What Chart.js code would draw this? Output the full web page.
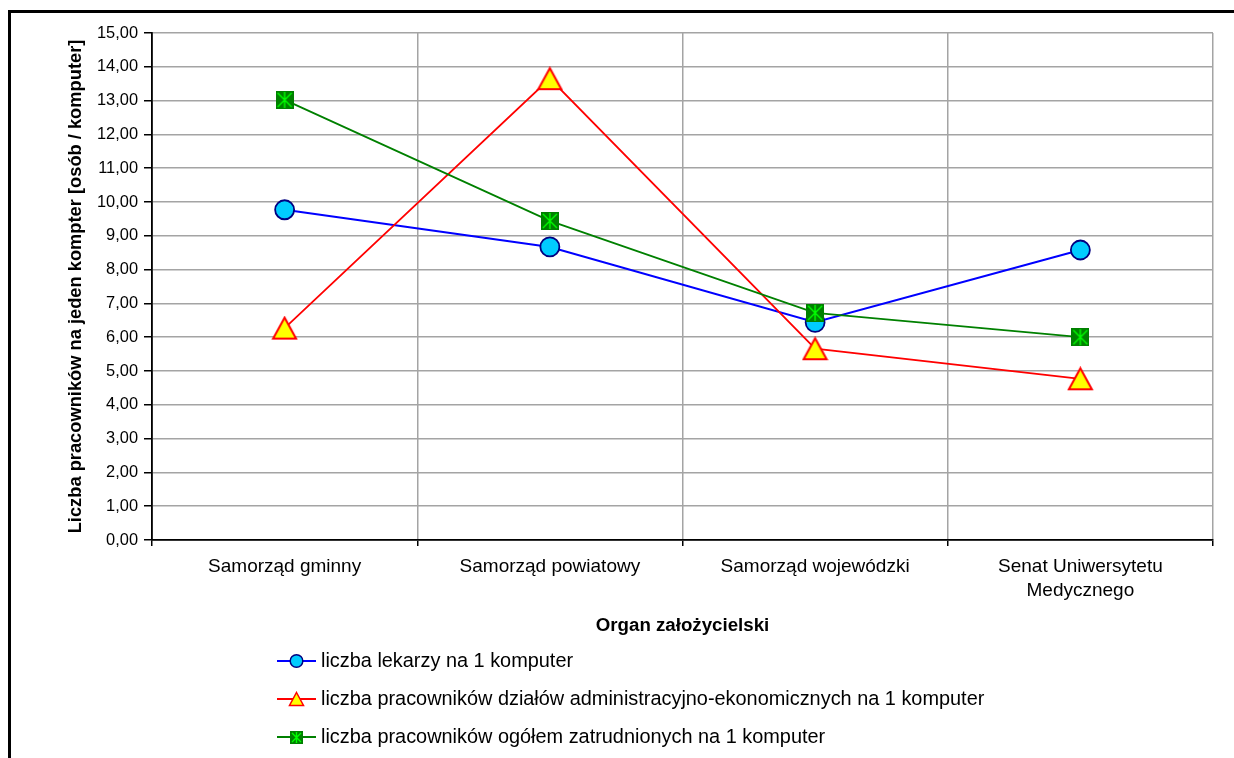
<!DOCTYPE html>
<html>
<head>
<meta charset="utf-8">
<script src="https://cdn.jsdelivr.net/npm/chart.js@4/dist/chart.umd.min.js"></script>
<style>
  html, body { margin: 0; padding: 0; background: #fff; }
  #wrap { width: 1234px; height: 758px; position: relative; }
</style>
</head>
<body>
<div id="wrap"><canvas id="c" width="1234" height="758"></canvas></div>
<script>
// Categories (founding bodies) and the three ratios per category
const categories = ['Samorząd gminny', 'Samorząd powiatowy', 'Samorząd wojewódzki', ['Senat Uniwersytetu', 'Medycznego']];
const lekarzeNaKomputer = [9.77, 8.67, 6.44, 8.58];
const administracjaNaKomputer = [6.27, 13.65, 5.66, 4.77];
const ogolemNaKomputer = [13.02, 9.44, 6.72, 6.00];
const seriesNames = [
  'liczba lekarzy na 1 komputer',
  'liczba pracowników działów administracyjno-ekonomicznych na 1 komputer',
  'liczba pracowników ogółem zatrudnionych na 1 komputer'
];
const yMin = 0, yMax = 15, yStep = 1;
const xTitle = 'Organ założycielski';
const yTitle = 'Liczba pracowników na jeden kompter [osób / komputer]';

const FONT = '"Liberation Sans", Arial, sans-serif';

// Marker images: yellow triangle with red outline, dark green square with a light green star
function triangleMarker(w, h, lw) {
  const c = document.createElement('canvas');
  c.width = w; c.height = h;
  const g = c.getContext('2d');
  g.beginPath();
  g.moveTo(w / 2, lw);
  g.lineTo(w - lw, h - lw);
  g.lineTo(lw, h - lw);
  g.closePath();
  g.fillStyle = '#FFFF00';
  g.fill();
  g.lineWidth = lw;
  g.strokeStyle = '#FF0000';
  g.lineJoin = 'miter';
  g.stroke();
  return c;
}
function starSquareMarker(s) {
  const c = document.createElement('canvas');
  c.width = s; c.height = s;
  const g = c.getContext('2d');
  g.fillStyle = '#008000';
  g.fillRect(0, 0, s, s);
  g.strokeStyle = '#00FF00';
  g.lineWidth = 1.4;
  g.beginPath();
  g.moveTo(2, 2); g.lineTo(s - 2, s - 2);
  g.moveTo(s - 2, 2); g.lineTo(2, s - 2);
  g.moveTo(s / 2, 1); g.lineTo(s / 2, s - 1);
  g.stroke();
  return c;
}
const triImg = triangleMarker(27, 25, 2);
const sqImg = starSquareMarker(18);
const triImgSmall = triangleMarker(17, 16, 1.5);
const sqImgSmall = starSquareMarker(13);

// Outer frame and white background
const framePlugin = {
  id: 'frame',
  beforeDraw(chart) {
    const ctx = chart.ctx;
    ctx.save();
    ctx.fillStyle = '#fff';
    ctx.fillRect(0, 0, chart.width, chart.height);
    ctx.fillStyle = '#000';
    ctx.fillRect(8, 10, 3, chart.height - 10);
    ctx.fillRect(8, 10, chart.width - 8, 3);
    ctx.restore();
  }
};

// Legend stacked in rows under the axis title
const legendRows = [661, 699, 737];
const legendPlugin = {
  id: 'rowLegend',
  afterDraw(chart) {
    const ctx = chart.ctx;
    ctx.save();
    chart.data.datasets.forEach((ds, i) => {
      const y = legendRows[i];
      ctx.strokeStyle = ds.borderColor;
      ctx.lineWidth = ds.borderWidth;
      ctx.beginPath();
      ctx.moveTo(277, y);
      ctx.lineTo(316, y);
      ctx.stroke();
      const mx = 296.5;
      if (i === 0) {
        ctx.beginPath();
        ctx.arc(mx, y, 6.3, 0, Math.PI * 2);
        ctx.fillStyle = ds.pointBackgroundColor;
        ctx.fill();
        ctx.lineWidth = 1.5;
        ctx.strokeStyle = ds.pointBorderColor;
        ctx.stroke();
      } else {
        const img = i === 1 ? triImgSmall : sqImgSmall;
        ctx.drawImage(img, Math.round(mx - img.width / 2), Math.round(y - img.height / 2));
      }
      ctx.fillStyle = '#000';
      ctx.font = '19.9px ' + FONT;
      ctx.textBaseline = 'middle';
      ctx.textAlign = 'left';
      ctx.fillText(ds.label, 321, y + 1);
    });
    ctx.restore();
  }
};

new Chart(document.getElementById('c'), {
  type: 'line',
  data: {
    labels: categories,
    datasets: [
      {
        label: seriesNames[0],
        data: lekarzeNaKomputer,
        borderColor: '#0000FF',
        borderWidth: 2,
        pointStyle: 'circle',
        pointRadius: 9.5,
        pointBackgroundColor: '#00CCFF',
        pointBorderColor: '#000080',
        pointBorderWidth: 1.8,
        tension: 0,
        order: 3
      },
      {
        label: seriesNames[1],
        data: administracjaNaKomputer,
        borderColor: '#FF0000',
        borderWidth: 1.8,
        pointStyle: triImg,
        pointRadius: 12,
        pointBackgroundColor: '#FFFF00',
        pointBorderColor: '#FF0000',
        tension: 0,
        order: 2
      },
      {
        label: seriesNames[2],
        data: ogolemNaKomputer,
        borderColor: '#008000',
        borderWidth: 1.8,
        pointStyle: sqImg,
        pointRadius: 10,
        pointBackgroundColor: '#008000',
        pointBorderColor: '#00FF00',
        tension: 0,
        order: 1
      }
    ]
  },
  options: {
    responsive: false,
    animation: false,
    devicePixelRatio: 1,
    layout: { padding: { left: 65, top: 33, right: 21, bottom: 121 } },
    plugins: {
      legend: { display: false },
      tooltip: { enabled: false }
    },
    scales: {
      x: {
        offset: true,
        grid: {
          offset: true,
          color: (ctx) => ctx.index === categories.length ? '#8a8a8a' : '#a4a4a4',
          lineWidth: (ctx) => ctx.index === categories.length ? 2.5 : 1.5,
          tickColor: '#000',
          tickLength: 6,
          drawTicks: true
        },
        border: { color: '#000', width: 1.8 },
        ticks: {
          color: '#000',
          font: { family: FONT, size: 19, lineHeight: 1.3 },
          padding: 8,
          maxRotation: 0,
          autoSkip: false
        },
        title: {
          display: true,
          text: xTitle,
          color: '#000',
          font: { family: FONT, size: 18.7, weight: 'bold', lineHeight: 1.2 },
          padding: { top: 0, bottom: 0 }
        },
        afterFit(scale) { scale.height = 97; }
      },
      y: {
        min: yMin,
        max: yMax,
        ticks: {
          stepSize: yStep,
          color: '#000',
          font: { family: FONT, size: 16.4 },
          padding: 6,
          callback: (v) => v.toFixed(2).replace('.', ',')
        },
        grid: {
          color: '#a4a4a4',
          lineWidth: 1.5,
          tickColor: '#000',
          tickLength: 8
        },
        border: { color: '#000', width: 1.8 },
        title: {
          display: true,
          text: yTitle,
          color: '#000',
          font: { family: FONT, size: 18.3, weight: 'bold', lineHeight: 1.2 },
          padding: { top: 0, bottom: 0 }
        },
        afterFit(scale) { scale.width = 87; }
      }
    }
  },
  plugins: [framePlugin, legendPlugin]
});
</script>
</body>
</html>
